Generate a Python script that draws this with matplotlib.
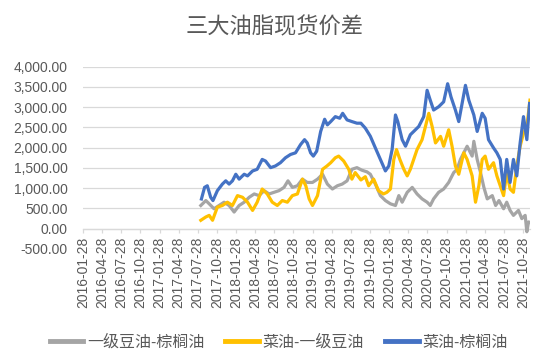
import matplotlib
matplotlib.use("Agg")
import matplotlib.pyplot as plt
import matplotlib.dates as mdates
import pandas as pd
from matplotlib.ticker import FuncFormatter, MultipleLocator

plt.rcParams["font.family"] = ["Liberation Sans", "Noto Sans CJK SC", "DejaVu Sans"]

TITLE = "三大油脂现货价差"
NAMES = ["一级豆油-棕榈油", "菜油-一级豆油", "菜油-棕榈油"]
COLORS = ["#A5A5A5", "#FFC000", "#4472C4"]
TEXT = "#595959"
GRID = "#D9D9D9"

# 一级豆油-棕榈油
soy_palm_dates = [
    "2017-08-12", "2017-09-05", "2017-09-21", "2017-10-14", "2017-11-07", "2017-12-01",
    "2017-12-25", "2018-01-18", "2018-02-11", "2018-03-07", "2018-03-31", "2018-04-24",
    "2018-05-17", "2018-06-10", "2018-07-04", "2018-07-27", "2018-08-20", "2018-09-13",
    "2018-10-02", "2018-10-23", "2018-11-16", "2018-12-10", "2019-01-02", "2019-01-27",
    "2019-02-20", "2019-03-16", "2019-04-08", "2019-05-02", "2019-05-26", "2019-06-18",
    "2019-07-11", "2019-08-03", "2019-08-27", "2019-09-20", "2019-10-14", "2019-10-30",
    "2019-11-23", "2019-12-17", "2020-01-10", "2020-02-03", "2020-02-27", "2020-03-14",
    "2020-03-30", "2020-04-23", "2020-05-17", "2020-06-09", "2020-07-03", "2020-07-27",
    "2020-08-11", "2020-08-27", "2020-09-20", "2020-10-14", "2020-11-07", "2020-12-01",
    "2020-12-17", "2021-01-02", "2021-01-18", "2021-02-03", "2021-02-27", "2021-03-07",
    "2021-03-23", "2021-04-08", "2021-04-24", "2021-05-10", "2021-06-03", "2021-06-19",
    "2021-07-05", "2021-07-27", "2021-08-11", "2021-08-27", "2021-09-12", "2021-10-06",
    "2021-10-22", "2021-11-07", "2021-11-15", "2021-11-23", "2021-11-30",
]
soy_palm = [
    569, 691, 610, 488, 569, 650,
    569, 407, 569, 650, 772, 854,
    813, 935, 854, 894, 935, 1016,
    1178, 1016, 1057, 1220, 1138, 1138,
    1220, 1341, 1098, 976, 1057, 1098,
    1178, 1463, 1504, 1440, 1400, 1341,
    1098, 813, 691, 610, 569, 813,
    650, 894, 1016, 854, 732, 650,
    569, 732, 894, 976, 1138, 1382,
    1463, 1707, 1870, 2033, 1789, 2155,
    1707, 1382, 1016, 732, 813, 569,
    691, 488, 650, 447, 325, 447,
    244, 325, -80, 163, 150,
]

# 菜油-一级豆油
rape_soy_dates = [
    "2017-08-12", "2017-09-05", "2017-09-21", "2017-10-07", "2017-10-30", "2017-11-23",
    "2017-12-17", "2018-01-10", "2018-02-03", "2018-02-27", "2018-03-23", "2018-04-16",
    "2018-05-08", "2018-06-01", "2018-06-25", "2018-07-19", "2018-08-12", "2018-09-05",
    "2018-09-29", "2018-10-23", "2018-11-16", "2018-12-10", "2018-12-26", "2019-01-11",
    "2019-01-27", "2019-02-20", "2019-03-16", "2019-04-06", "2019-04-24", "2019-05-16",
    "2019-06-01", "2019-06-25", "2019-07-19", "2019-08-03", "2019-08-19", "2019-09-15",
    "2019-10-06", "2019-10-22", "2019-11-15", "2019-12-08", "2020-01-01", "2020-01-17",
    "2020-02-03", "2020-02-19", "2020-03-03", "2020-03-19", "2020-04-07", "2020-04-23",
    "2020-05-08", "2020-05-24", "2020-06-09", "2020-07-03", "2020-07-19", "2020-08-04",
    "2020-08-20", "2020-09-05", "2020-09-29", "2020-10-14", "2020-11-07", "2020-11-23",
    "2020-12-09", "2020-12-25", "2021-01-18", "2021-02-03", "2021-02-27", "2021-03-15",
    "2021-03-31", "2021-04-16", "2021-04-30", "2021-05-16", "2021-06-09", "2021-06-25",
    "2021-07-11", "2021-07-27", "2021-08-11", "2021-08-27", "2021-09-12", "2021-09-28",
    "2021-10-14", "2021-10-30", "2021-11-15", "2021-11-30",
]
rape_soy = [
    203, 285, 325, 203, 528, 569,
    650, 569, 813, 772, 650, 447,
    650, 976, 854, 650, 569, 691,
    650, 813, 854, 1220, 1057, 732,
    569, 813, 1463, 1545, 1626, 1748,
    1789, 1667, 1463, 1220, 1382, 1200,
    1280, 1057, 1220, 935, 854, 894,
    976, 1707, 1951, 1707, 1463, 1300,
    1463, 1707, 1951, 2195, 2520, 2846,
    2520, 2114, 2276, 2033, 2439, 2033,
    1545, 1341, 1870, 1707, 1300, 650,
    1057, 1707, 1789, 1463, 1626, 1300,
    1057, 813, 1382, 976, 894, 1545,
    2033, 2358, 2520, 3171,
]

# 菜油-棕榈油
rape_palm_dates = [
    "2017-08-15", "2017-08-30", "2017-09-12", "2017-09-28", "2017-10-09", "2017-10-30",
    "2017-11-23", "2017-12-09", "2017-12-25", "2018-01-10", "2018-01-26", "2018-02-11",
    "2018-03-07", "2018-03-23", "2018-04-16", "2018-05-08", "2018-06-01", "2018-06-17",
    "2018-07-11", "2018-08-03", "2018-08-27", "2018-09-20", "2018-10-14", "2018-11-07",
    "2018-12-01", "2018-12-20", "2019-01-02", "2019-01-18", "2019-01-31", "2019-02-16",
    "2019-03-07", "2019-03-26", "2019-04-08", "2019-04-24", "2019-05-16", "2019-06-06",
    "2019-06-20", "2019-07-11", "2019-08-03", "2019-08-27", "2019-09-15", "2019-10-06",
    "2019-10-30", "2019-11-23", "2019-12-17", "2020-01-10", "2020-01-26", "2020-02-11",
    "2020-02-27", "2020-03-09", "2020-03-30", "2020-04-15", "2020-05-08", "2020-05-24",
    "2020-06-17", "2020-07-11", "2020-07-27", "2020-08-11", "2020-08-27", "2020-09-20",
    "2020-10-14", "2020-11-02", "2020-11-18", "2020-12-09", "2020-12-25", "2021-01-10",
    "2021-01-26", "2021-02-11", "2021-03-07", "2021-03-23", "2021-04-16", "2021-04-30",
    "2021-05-16", "2021-06-09", "2021-06-25", "2021-07-11", "2021-07-27", "2021-08-11",
    "2021-08-27", "2021-09-12", "2021-09-28", "2021-10-14", "2021-10-30", "2021-11-15",
    "2021-11-28",
]
rape_palm = [
    730, 1017, 1056, 773, 690, 935,
    1098, 1178, 1098, 1178, 1341, 1220,
    1341, 1300, 1422, 1463, 1707, 1667,
    1504, 1545, 1626, 1748, 1829, 1870,
    2073, 2195, 2114, 1870, 1789, 1910,
    2398, 2699, 2561, 2642, 2764, 2724,
    2846, 2683, 2642, 2602, 2602, 2480,
    2280, 1992, 1707, 1423, 1545, 1951,
    2805, 2642, 2195, 2033, 2317, 2398,
    2520, 2764, 3415, 3171, 2927, 3008,
    3130, 3577, 3252, 2927, 2642, 3089,
    3537, 3171, 2805, 2398, 2846, 2724,
    2195, 1992, 1870, 1707, 976, 1707,
    1138, 1707, 1300, 2114, 2764, 2195,
    3089,
]

tick_dates = pd.date_range("2016-01-28", periods=24, freq=pd.DateOffset(months=3))

fig = plt.figure(figsize=(5.5, 3.6), dpi=100)
ax = fig.add_axes([0.151, 0.309, 0.813, 0.506])

series = [
    (soy_palm_dates, soy_palm),
    (rape_soy_dates, rape_soy),
    (rape_palm_dates, rape_palm),
]
for (dates, vals), name, color in zip(series, NAMES, COLORS):
    ax.plot(pd.to_datetime(dates), vals, color=color, lw=2.3, label=name,
            solid_joinstyle="round", zorder=3)

ax.set_ylim(-500, 4000)
ax.yaxis.set_major_locator(MultipleLocator(500))
ax.yaxis.set_major_formatter(FuncFormatter(lambda v, _: f"{v:,.2f}"))
ax.grid(axis="y", color=GRID, lw=0.9)
ax.set_axisbelow(True)

ax.set_xlim(pd.Timestamp("2016-01-28"), pd.Timestamp("2021-12-01"))
ax.set_xticks(tick_dates)
ax.xaxis.set_major_formatter(mdates.DateFormatter("%Y-%m-%d"))

for side in ("top", "right", "left"):
    ax.spines[side].set_visible(False)
ax.spines["bottom"].set_position(("data", 0))
ax.spines["bottom"].set_color(GRID)
ax.spines["bottom"].set_linewidth(0.9)

ax.tick_params(axis="y", length=0, pad=11, labelsize=10, labelcolor=TEXT)
ax.tick_params(axis="x", length=3, width=0.9, color=GRID, pad=3,
               labelsize=10, labelcolor=TEXT, labelrotation=90)

fig.text(0.5, 0.922, TITLE, ha="center", va="center", fontsize=16, color=TEXT)

fig.legend(loc="center", bbox_to_anchor=(0.507, 0.05), ncol=3, frameon=False,
           fontsize=11.5, labelcolor=TEXT, handlelength=2.1, handletextpad=0.25,
           columnspacing=1.3, borderaxespad=0)
for line in fig.legends[0].get_lines():
    line.set_linewidth(3.5)

fig.savefig("out.png", dpi=100)
